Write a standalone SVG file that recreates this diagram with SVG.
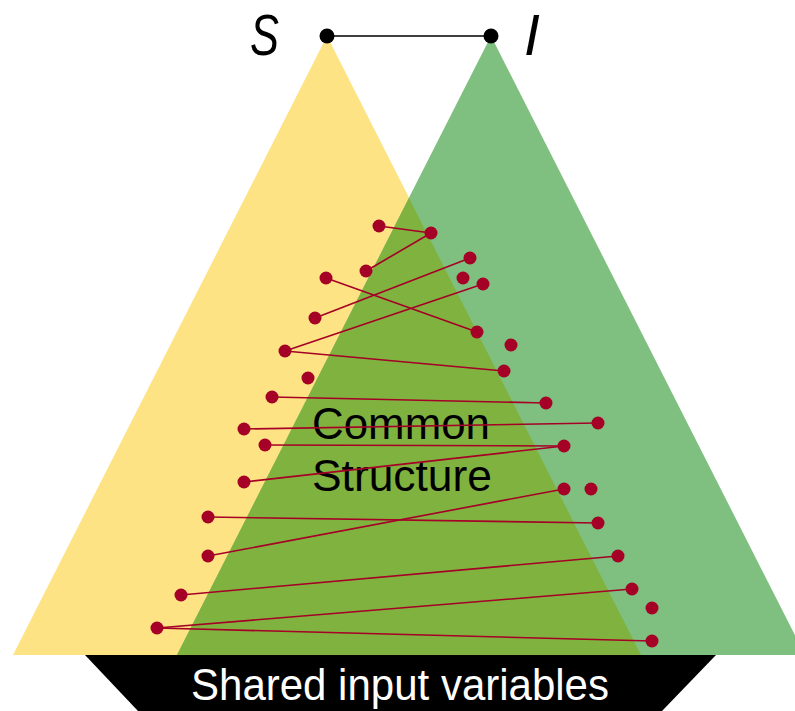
<svg xmlns="http://www.w3.org/2000/svg" width="795" height="711" viewBox="0 0 795 711">
  <style>
    .lbl { font-family: "Liberation Sans", "DejaVu Sans", sans-serif; }
    .var { font-family: "Liberation Sans", "DejaVu Sans", sans-serif; font-style: italic; font-size: 57px; fill: #000; }
    .pt { fill: #A50026; }
    .link { stroke: #A50026; stroke-width: 1.6; fill: none; }
  </style>
  <rect width="795" height="711" fill="#ffffff"/>

  <!-- Two overlapping triangles and their overlap -->
  <g id="tri-s"><polygon points="327,36 13,655 641,655" fill="#FDE383"/></g>
  <g id="tri-i"><polygon points="491,36 177,655 805,655" fill="#7FC080"/></g>
  <g id="overlap"><polygon points="409,198 177,655 641,655" fill="#80B240"/></g>

  <!-- Base band -->
  <g id="base">
    <polygon points="85,655 716,655 662,711 138,711" fill="#000"/>
    <text class="lbl" x="400" y="700" font-size="44" fill="#fff" text-anchor="middle" textLength="418" lengthAdjust="spacingAndGlyphs">Shared input variables</text>
  </g>

  <!-- Centre label -->
  <g id="common-label">
    <text class="lbl" x="312" y="439" font-size="45" fill="#000" textLength="178" lengthAdjust="spacingAndGlyphs">Common</text>
    <text class="lbl" x="312" y="491" font-size="45" fill="#000" textLength="180" lengthAdjust="spacingAndGlyphs">Structure</text>
  </g>

  <!-- Top root nodes -->
  <g id="root-link"><line x1="327" y1="36" x2="491" y2="36" stroke="#000" stroke-width="1.6"/></g>
  <g id="node-S">
    <circle cx="327" cy="36" r="7.5" fill="#000"/>
    <text class="var" x="250" y="55" textLength="29" lengthAdjust="spacingAndGlyphs">S</text>
  </g>
  <g id="node-I">
    <circle cx="491" cy="36" r="7.5" fill="#000"/>
    <text class="var" x="524" y="55">I</text>
  </g>

  <!-- Connectors between variables -->
  <g id="connectors" class="link">
    <line x1="379" y1="226" x2="431" y2="233"/>
    <line x1="431" y1="233" x2="366" y2="271"/>
    <line x1="326" y1="278" x2="477" y2="332"/>
    <line x1="315" y1="318" x2="470" y2="258"/>
    <line x1="285" y1="351" x2="483" y2="284"/>
    <line x1="285" y1="351" x2="504" y2="371"/>
    <line x1="272" y1="397" x2="546" y2="403"/>
    <line x1="244" y1="429" x2="598" y2="423"/>
    <line x1="265" y1="445" x2="564" y2="446"/>
    <line x1="244" y1="482" x2="564" y2="446"/>
    <line x1="208" y1="517" x2="598" y2="523"/>
    <line x1="208" y1="556" x2="564" y2="489"/>
    <line x1="181" y1="595" x2="618" y2="556"/>
    <line x1="157" y1="628" x2="632" y2="589"/>
    <line x1="157" y1="628" x2="652" y2="641"/>
  </g>

  <!-- Variable nodes -->
  <g id="v1" class="pt"><circle cx="379" cy="226" r="6.5"/></g>
  <g id="v2" class="pt"><circle cx="431" cy="233" r="6.5"/></g>
  <g id="v3" class="pt"><circle cx="366" cy="271" r="6.5"/></g>
  <g id="v4" class="pt"><circle cx="326" cy="278" r="6.5"/></g>
  <g id="v5" class="pt"><circle cx="470" cy="258" r="6.5"/></g>
  <g id="v6" class="pt"><circle cx="463" cy="278" r="6.5"/></g>
  <g id="v7" class="pt"><circle cx="483" cy="284" r="6.5"/></g>
  <g id="v8" class="pt"><circle cx="315" cy="318" r="6.5"/></g>
  <g id="v9" class="pt"><circle cx="477" cy="332" r="6.5"/></g>
  <g id="v10" class="pt"><circle cx="511" cy="345" r="6.5"/></g>
  <g id="v11" class="pt"><circle cx="285" cy="351" r="6.5"/></g>
  <g id="v12" class="pt"><circle cx="504" cy="371" r="6.5"/></g>
  <g id="v13" class="pt"><circle cx="308" cy="378" r="6.5"/></g>
  <g id="v14" class="pt"><circle cx="272" cy="397" r="6.5"/></g>
  <g id="v15" class="pt"><circle cx="546" cy="403" r="6.5"/></g>
  <g id="v16" class="pt"><circle cx="244" cy="429" r="6.5"/></g>
  <g id="v17" class="pt"><circle cx="598" cy="423" r="6.5"/></g>
  <g id="v18" class="pt"><circle cx="265" cy="445" r="6.5"/></g>
  <g id="v19" class="pt"><circle cx="564" cy="446" r="6.5"/></g>
  <g id="v20" class="pt"><circle cx="244" cy="482" r="6.5"/></g>
  <g id="v21" class="pt"><circle cx="564" cy="489" r="6.5"/></g>
  <g id="v22" class="pt"><circle cx="591" cy="489" r="6.5"/></g>
  <g id="v23" class="pt"><circle cx="208" cy="517" r="6.5"/></g>
  <g id="v24" class="pt"><circle cx="598" cy="523" r="6.5"/></g>
  <g id="v25" class="pt"><circle cx="208" cy="556" r="6.5"/></g>
  <g id="v26" class="pt"><circle cx="618" cy="556" r="6.5"/></g>
  <g id="v27" class="pt"><circle cx="181" cy="595" r="6.5"/></g>
  <g id="v28" class="pt"><circle cx="632" cy="589" r="6.5"/></g>
  <g id="v29" class="pt"><circle cx="652" cy="608" r="6.5"/></g>
  <g id="v30" class="pt"><circle cx="157" cy="628" r="6.5"/></g>
  <g id="v31" class="pt"><circle cx="652" cy="641" r="6.5"/></g>
</svg>
